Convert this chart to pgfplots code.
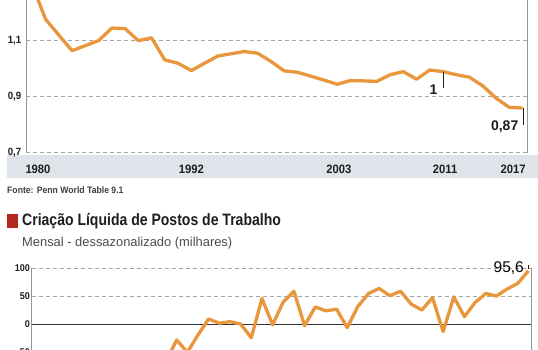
\documentclass[border=0pt]{standalone}
\usepackage{pgfplots}
\pgfplotsset{compat=1.18}
\usepackage{pgfplotstable}
\usepackage{fontspec}
\setmainfont{Liberation Sans}
\newfontfamily\condfont[FakeStretch=0.85]{Liberation Sans}
\newfontfamily\tickfont[FakeStretch=0.92]{Liberation Sans}

\definecolor{lineor}{RGB}{233,151,60}
\definecolor{gridc}{RGB}{165,165,165}
\definecolor{axc}{RGB}{150,150,150}
\definecolor{band}{RGB}{223,228,234}
\definecolor{titred}{RGB}{178,40,30}
\definecolor{txt}{RGB}{30,30,30}

\pgfplotstableread{
year val
1980 1.300
1981 1.1775
1982 1.121
1983 1.065
1984 1.083
1985 1.101
1986 1.146
1987 1.144
1988 1.101
1989 1.111
1990 1.032
1991 1.020
1992 0.994
1993 1.020
1994 1.046
1995 1.054
1996 1.062
1997 1.056
1998 1.027
1999 0.993
2000 0.988
2001 0.974
2002 0.960
2003 0.945
2004 0.958
2005 0.957
2006 0.955
2007 0.979
2008 0.990
2009 0.963
2010 0.996
2011 0.990
2012 0.979
2013 0.970
2014 0.939
2015 0.895
2016 0.862
2017 0.860
}\prodtable

\pgfplotstableread{
n val
1 -120
2 -135
3 -110
4 -140
5 -125
6 -100
7 -115
8 -90
9 -105
10 -80
11 -95
12 -70
13 -66
14 -28
15 -50
16 -19
17 9.5
18 2
19 4.7
20 0.5
21 -24
22 46
23 -1
24 40
25 59
26 -2.5
27 31
28 24
29 27
30 -6
31 32
32 55
33 64
34 51
35 59
36 36
37 25.5
38 47.5
39 -13
40 49
41 13.6
42 39
43 55
44 50.5
45 63
46 73
47 95.6
}\jobtable

\begin{document}
\begin{tikzpicture}[x=1pt,y=1pt]
\useasboundingbox (0pt,0pt) rectangle (538pt,350pt);
\clip (0pt,0pt) rectangle (538pt,350pt);
\fill[white] (0pt,0pt) rectangle (538pt,350pt);
\fill[band] (7pt,172pt) rectangle (538pt,195pt);

% ---------- top chart ----------
\begin{axis}[
  at={(26pt,197.3pt)}, anchor=south west, scale only axis,
  width=501.5pt, height=152.7pt,
  xmin=1979.525, xmax=2017.37, ymin=0.7, ymax=1.2464,
  axis line style={draw=none},
  major tick length=0pt,
  xtick={1980.43,1992,2003.13,2011.15,2016.28},
  xticklabels={1980,1992,2003,2011,2017},
  ytick={0.7,0.9,1.1},
  yticklabels={{0,7},{0,9},{1,1}},
  ymajorgrids,
  grid style={gridc, dash pattern=on 4pt off 3pt, line width=0.9pt},
  xticklabel style={font=\tickfont\bfseries\fontsize{12.2}{12.2}\selectfont, text=txt, anchor=base, yshift=-20.8pt, inner sep=0pt},
  yticklabel style={font=\tickfont\bfseries\fontsize{10.5}{10.5}\selectfont, text=txt, anchor=east, inner sep=0pt, xshift=-4.5pt},
  clip=false,
]
\addplot[lineor, line width=3.3pt, line join=round] table[x=year,y=val] {\prodtable};
\draw[axc, line width=0.9pt] (rel axis cs:0,0) -- (rel axis cs:0,1);
\draw[axc, line width=0.9pt] (rel axis cs:1,0) -- (rel axis cs:1,1);
\draw[txt, line width=0.9pt] (axis cs:2011,0.99) -- (axis cs:2011,0.931);
\draw[txt, line width=0.9pt] (axis cs:2017.05,0.86) -- (axis cs:2017.05,0.80);
\end{axis}

\node[anchor=base east, inner sep=0pt, font=\bfseries\fontsize{14}{14}\selectfont, text=txt] at (437.7pt,255pt) {1};
\node[anchor=base east, inner sep=0pt, font=\bfseries\fontsize{14}{14}\selectfont, text=txt] at (518.5pt,219.3pt) {0,87};

\node[anchor=base west, inner sep=0pt, font=\tickfont\bfseries\fontsize{9.4}{9.4}\selectfont, text=black!75] at (7pt,156.7pt) {Fonte: Penn World Table 9.1};

\fill[titred] (7pt,122pt) rectangle (18pt,136pt);
\node[anchor=base west, inner sep=0pt, font=\condfont\bfseries\fontsize{16.5}{16.5}\selectfont, text=txt] at (22pt,124pt) {Criação Líquida de Postos de Trabalho};
\node[anchor=base west, inner sep=0pt, font=\fontsize{12.9}{12.9}\selectfont, text=black!70] at (22pt,103.3pt) {Mensal - dessazonalizado (milhares)};

% ---------- bottom chart ----------
\begin{axis}[
  at={(31.7pt,-58.3pt)}, anchor=south west, scale only axis,
  width=499.3pt, height=140pt,
  xmin=0.40, xmax=47.24, ymin=-150, ymax=100,
  axis line style={draw=none},
  major tick length=0pt,
  xtick=\empty,
  ytick={-50,0,50,100},
  yticklabels={-50,0,50,100},
  ymajorgrids,
  grid style={gridc, dash pattern=on 4pt off 3pt, line width=0.9pt},
  yticklabel style={font=\tickfont\bfseries\fontsize{9.8}{9.8}\selectfont, text=txt, anchor=east, inner sep=0pt, xshift=-1.7pt},
  clip=false,
]
\draw[axc, line width=0.9pt] (rel axis cs:0,0) -- (rel axis cs:0,1);
\draw[axc, line width=0.9pt] (rel axis cs:1,0) -- (rel axis cs:1,1);
\draw[black!80, line width=1pt] (axis cs:0.40,0) -- (axis cs:47.24,0);
\addplot[lineor, line width=3.3pt, line join=round] table[x=n,y=val] {\jobtable};
\draw[txt, line width=0.8pt] (axis cs:47,99) -- (axis cs:47,105);
\end{axis}

\node[anchor=base east, inner sep=0pt, font=\fontsize{15.5}{15.5}\selectfont, text=black] at (524pt,77pt) {95,6};
\end{tikzpicture}
\end{document}
